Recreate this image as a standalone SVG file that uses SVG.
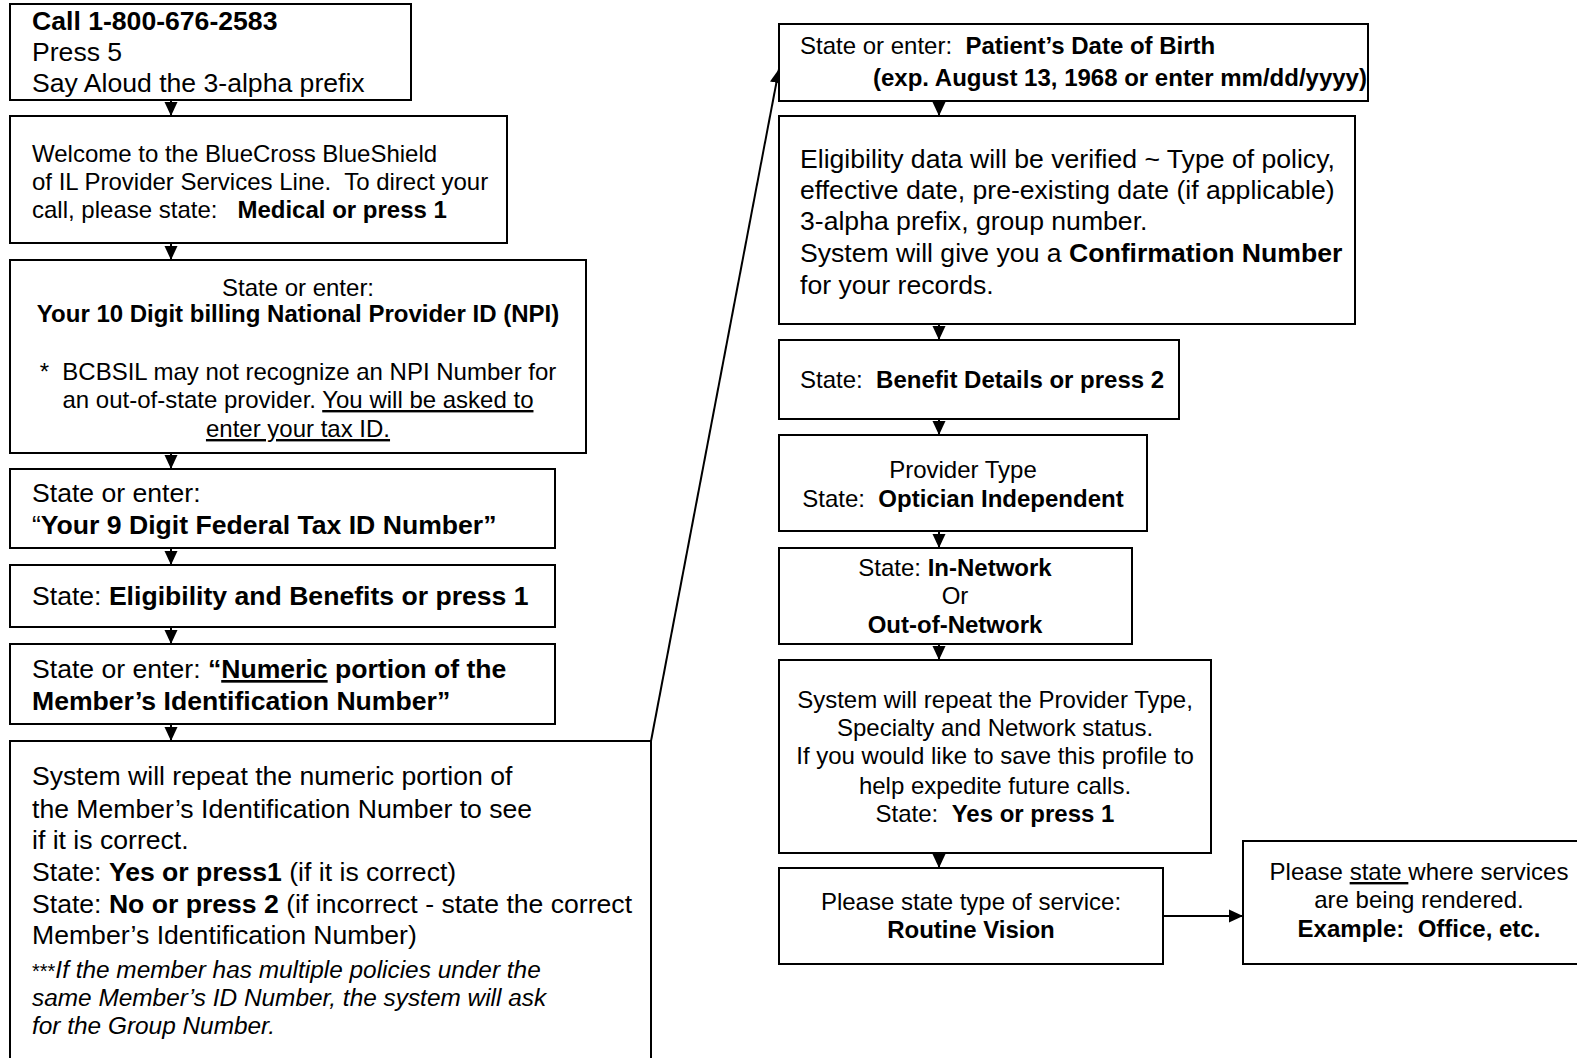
<svg xmlns="http://www.w3.org/2000/svg" width="1577" height="1058" viewBox="0 0 1577 1058">
<style>
text{font-family:"Liberation Sans",Arial,sans-serif;fill:#000;white-space:pre}
.box{fill:#fff;stroke:#000;stroke-width:2}
.f26{font-size:26.6px}
.f24{font-size:24px}
.fi{font-size:24.4px}
.b{font-weight:bold}
.i{font-style:italic}
.u{text-decoration:underline}
.c{text-anchor:middle}
.conn{stroke:#000;stroke-width:2;fill:none}
</style>
<defs>
<marker id="ah" markerUnits="userSpaceOnUse" markerWidth="14" markerHeight="14" viewBox="0 0 14 14" refX="14" refY="7" orient="auto">
<path d="M0,0.5 L14,7 L0,13.5 z" fill="#000"/>
</marker>
</defs>

<g id="connectors">
<line class="conn" x1="171" y1="101" x2="171" y2="116" marker-end="url(#ah)"/>
<line class="conn" x1="171" y1="243" x2="171" y2="260" marker-end="url(#ah)"/>
<line class="conn" x1="171" y1="453" x2="171" y2="469" marker-end="url(#ah)"/>
<line class="conn" x1="171" y1="548" x2="171" y2="565" marker-end="url(#ah)"/>
<line class="conn" x1="171" y1="627" x2="171" y2="644" marker-end="url(#ah)"/>
<line class="conn" x1="171" y1="724" x2="171" y2="741" marker-end="url(#ah)"/>
<line class="conn" x1="651" y1="741" x2="779" y2="69" marker-end="url(#ah)"/>
<line class="conn" x1="939" y1="101" x2="939" y2="116" marker-end="url(#ah)"/>
<line class="conn" x1="939" y1="324" x2="939" y2="340" marker-end="url(#ah)"/>
<line class="conn" x1="939" y1="419" x2="939" y2="435" marker-end="url(#ah)"/>
<line class="conn" x1="939" y1="531" x2="939" y2="548" marker-end="url(#ah)"/>
<line class="conn" x1="939" y1="644" x2="939" y2="660" marker-end="url(#ah)"/>
<line class="conn" x1="939" y1="853" x2="939" y2="868" marker-end="url(#ah)"/>
<line class="conn" x1="1163" y1="916" x2="1243" y2="916" marker-end="url(#ah)"/>
</g>

<g id="n1">
<rect class="box" x="10" y="4" width="401" height="96"/>
<text class="f26" x="32" y="30"><tspan class="b">Call 1-800-676-2583</tspan></text>
<text class="f26" x="32" y="61">Press 5</text>
<text class="f26" x="32" y="92">Say Aloud the 3-alpha prefix</text>
</g>

<g id="n2">
<rect class="box" x="10" y="116" width="497" height="127"/>
<text class="f24" x="32" y="162">Welcome to the BlueCross BlueShield</text>
<text class="f24" x="32" y="190">of IL Provider Services Line.  To direct your</text>
<text class="f24" x="32" y="218">call, please state:   <tspan class="b">Medical or press 1</tspan></text>
</g>

<g id="n3">
<rect class="box" x="10" y="260" width="576" height="193"/>
<text class="f24 c" x="298" y="296">State or enter:</text>
<text class="f24 c b" x="298" y="322">Your 10 Digit billing National Provider ID (NPI)</text>
<text class="f24 c" x="298" y="380">*  BCBSIL may not recognize an NPI Number for</text>
<text class="f24 c" x="298" y="408">an out-of-state provider. <tspan class="u">You will be asked to</tspan></text>
<text class="f24 c u" x="298" y="437">enter your tax ID.</text>
</g>

<g id="n4">
<rect class="box" x="10" y="469" width="545" height="79"/>
<text class="f26" x="32" y="502">State or enter:</text>
<text class="f26" x="32" y="534">“<tspan class="b">Your 9 Digit Federal Tax ID Number”</tspan></text>
</g>

<g id="n5">
<rect class="box" x="10" y="565" width="545" height="62"/>
<text class="f26" x="32" y="605">State: <tspan class="b">Eligibility and Benefits or press 1</tspan></text>
</g>

<g id="n6">
<rect class="box" x="10" y="644" width="545" height="80"/>
<text class="f26" x="32" y="678">State or enter: <tspan class="b">“<tspan class="u">Numeric</tspan> portion of the</tspan></text>
<text class="f26 b" x="32" y="710">Member’s Identification Number”</text>
</g>

<g id="n7">
<rect class="box" x="10" y="741" width="641" height="330"/>
<text class="f26" x="32" y="785">System will repeat the numeric portion of</text>
<text class="f26" x="32" y="818">the Member’s Identification Number to see</text>
<text class="f26" x="32" y="849">if it is correct.</text>
<text class="f26" x="32" y="881">State: <tspan class="b">Yes or press1</tspan> (if it is correct)</text>
<text class="f26" x="32" y="913">State: <tspan class="b">No or press 2</tspan> (if incorrect - state the correct</text>
<text class="f26" x="32" y="944">Member’s Identification Number)</text>
<text class="fi" x="32" y="978"><tspan font-size="20">***</tspan><tspan class="i">If the member has multiple policies under the</tspan></text>
<text class="fi i" x="32" y="1006">same Member’s ID Number, the system will ask</text>
<text class="fi i" x="32" y="1034">for the Group Number.</text>
</g>

<g id="n8">
<rect class="box" x="779" y="24" width="589" height="77"/>
<text class="f24" x="800" y="54">State or enter:  <tspan class="b">Patient’s Date of Birth</tspan></text>
<text class="f24 b" x="873" y="86">(exp. August 13, 1968 or enter mm/dd/yyyy)</text>
</g>

<g id="n9">
<rect class="box" x="779" y="116" width="576" height="208"/>
<text class="f26" x="800" y="168">Eligibility data will be verified ~ Type of policy,</text>
<text class="f26" x="800" y="199">effective date, pre-existing date (if applicable)</text>
<text class="f26" x="800" y="230">3-alpha prefix, group number.</text>
<text class="f26" x="800" y="262">System will give you a <tspan class="b">Confirmation Number</tspan></text>
<text class="f26" x="800" y="294">for your records.</text>
</g>

<g id="n10">
<rect class="box" x="779" y="340" width="400" height="79"/>
<text class="f24" x="800" y="388">State:  <tspan class="b">Benefit Details or press 2</tspan></text>
</g>

<g id="n11">
<rect class="box" x="779" y="435" width="368" height="96"/>
<text class="f24 c" x="963" y="478">Provider Type</text>
<text class="f24 c" x="963" y="507">State:  <tspan class="b">Optician Independent</tspan></text>
</g>

<g id="n12">
<rect class="box" x="779" y="548" width="353" height="96"/>
<text class="f24 c" x="955" y="576">State: <tspan class="b">In-Network</tspan></text>
<text class="f24 c" x="955" y="604">Or</text>
<text class="f24 c b" x="955" y="633">Out-of-Network</text>
</g>

<g id="n13">
<rect class="box" x="779" y="660" width="432" height="193"/>
<text class="f24 c" x="995" y="708">System will repeat the Provider Type,</text>
<text class="f24 c" x="995" y="736">Specialty and Network status.</text>
<text class="f24 c" x="995" y="764">If you would like to save this profile to</text>
<text class="f24 c" x="995" y="794">help expedite future calls.</text>
<text class="f24 c" x="995" y="822">State:  <tspan class="b">Yes or press 1</tspan></text>
</g>

<g id="n14">
<rect class="box" x="779" y="868" width="384" height="96"/>
<text class="f24 c" x="971" y="910">Please state type of service:</text>
<text class="f24 c b" x="971" y="938">Routine Vision</text>
</g>

<g id="n15">
<rect class="box" x="1243" y="841" width="360" height="123"/>
<text class="f24 c" x="1419" y="880">Please <tspan class="u">state </tspan>where services</text>
<text class="f24 c" x="1419" y="908">are being rendered.</text>
<text class="f24 c b" x="1419" y="937">Example:  Office, etc.</text>
</g>
</svg>
